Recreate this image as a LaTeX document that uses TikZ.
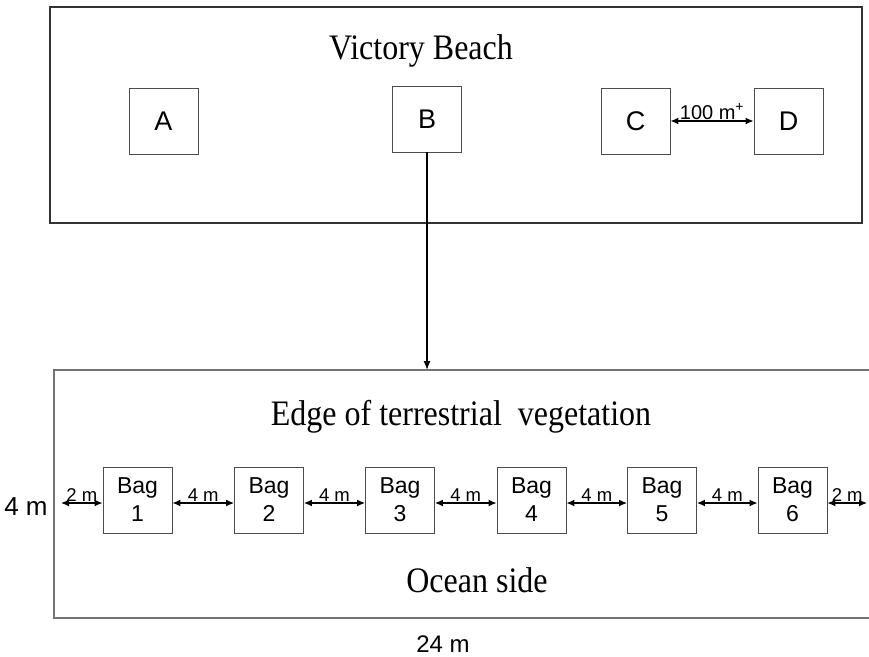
\documentclass[tikz,border=0pt]{standalone}
\usepackage{fontspec}
\setmainfont{Liberation Serif}
\setsansfont{Liberation Sans}
\usetikzlibrary{arrows.meta}
\tikzset{
  box/.style={draw=black!70, line width=0.9pt, minimum width=69pt, minimum height=66pt, inner sep=0pt, font=\sffamily\fontsize{27}{27}\selectfont},
  bag/.style={draw=black!70, line width=0.9pt, minimum width=69pt, minimum height=66pt, inner sep=0pt, align=center, font=\sffamily\fontsize{23}{28}\selectfont},
  dim/.style={line width=1.3pt, {Latex[length=8pt,width=7pt]}-{Latex[length=8pt,width=7pt]}},
  dimlabel/.style={font=\sffamily\fontsize{18.5}{18.5}\selectfont, inner sep=1pt},
  serif/.style={font=\fontsize{32}{36}\selectfont, inner sep=0pt},
}
\newcommand{\tallser}[1]{\scalebox{1}[1.12]{#1}}
\begin{document}
\begin{tikzpicture}[x=1pt,y=-1pt]
\useasboundingbox (0,0) rectangle (869,656);
\fill[white] (0,0) rectangle (869,656);
% top frame
\draw[black!80, line width=1.3pt] (50,7) rectangle (862,223);
\node[serif, anchor=base] (title) at (421,59) {\tallser{Victory Beach}};
\node[box] (A) at (163.5,121) {A};
\node[box] (B) at (427,119) {B};
\node[box] (C) at (635.5,121) {C};
\node[box] (D) at (788.5,121) {D};
\draw[dim] (C) -- node[above, dimlabel, font=\sffamily\fontsize{20}{20}\selectfont] (cd) {100 m\textsuperscript{+}} (D);
% bottom frame (open on the right)
\draw[black!55, line width=1.5pt] (869,370) -- (54,370) -- (54,618) -- (869,618);
\coordinate (btop) at (427,370);
\draw[line width=1.3pt, -{Latex[length=9pt,width=7pt]}] (B.south) -- (btop);
\node[serif, anchor=base] (edge) at (461,425) {\tallser{Edge of terrestrial\ \ vegetation}};
\node[serif, anchor=base] (ocean) at (477,592) {\tallser{Ocean side}};
\node[font=\sffamily\fontsize{24}{24}\selectfont, anchor=base] (len) at (443,652) {24 m};
\node[font=\sffamily\fontsize{26}{26}\selectfont, anchor=base] (wid) at (26,515) {4 m};
% bags
\node[bag] (bag1) at (137.5,500) {Bag\\1};
\node[bag] (bag2) at (269,500) {Bag\\2};
\node[bag] (bag3) at (400,500) {Bag\\3};
\node[bag] (bag4) at (531.5,500) {Bag\\4};
\node[bag] (bag5) at (662,500) {Bag\\5};
\node[bag] (bag6) at (792.5,500) {Bag\\6};
\coordinate (lend) at (61,503);
\coordinate (rend) at (867,503);
\draw[dim] (lend) -- node[above, dimlabel] (l0) {2 m} (lend -| bag1.west);
\draw[dim] ([yshift=-3pt]bag1.east) -- node[above, dimlabel] (l1) {4 m} ([yshift=-3pt]bag2.west);
\draw[dim] ([yshift=-3pt]bag2.east) -- node[above, dimlabel] (l2) {4 m} ([yshift=-3pt]bag3.west);
\draw[dim] ([yshift=-3pt]bag3.east) -- node[above, dimlabel] (l3) {4 m} ([yshift=-3pt]bag4.west);
\draw[dim] ([yshift=-3pt]bag4.east) -- node[above, dimlabel] (l4) {4 m} ([yshift=-3pt]bag5.west);
\draw[dim] ([yshift=-3pt]bag5.east) -- node[above, dimlabel] (l5) {4 m} ([yshift=-3pt]bag6.west);
\draw[dim] (rend -| bag6.east) -- node[above, dimlabel] (l6) {2 m} (rend);
\end{tikzpicture}
\end{document}
